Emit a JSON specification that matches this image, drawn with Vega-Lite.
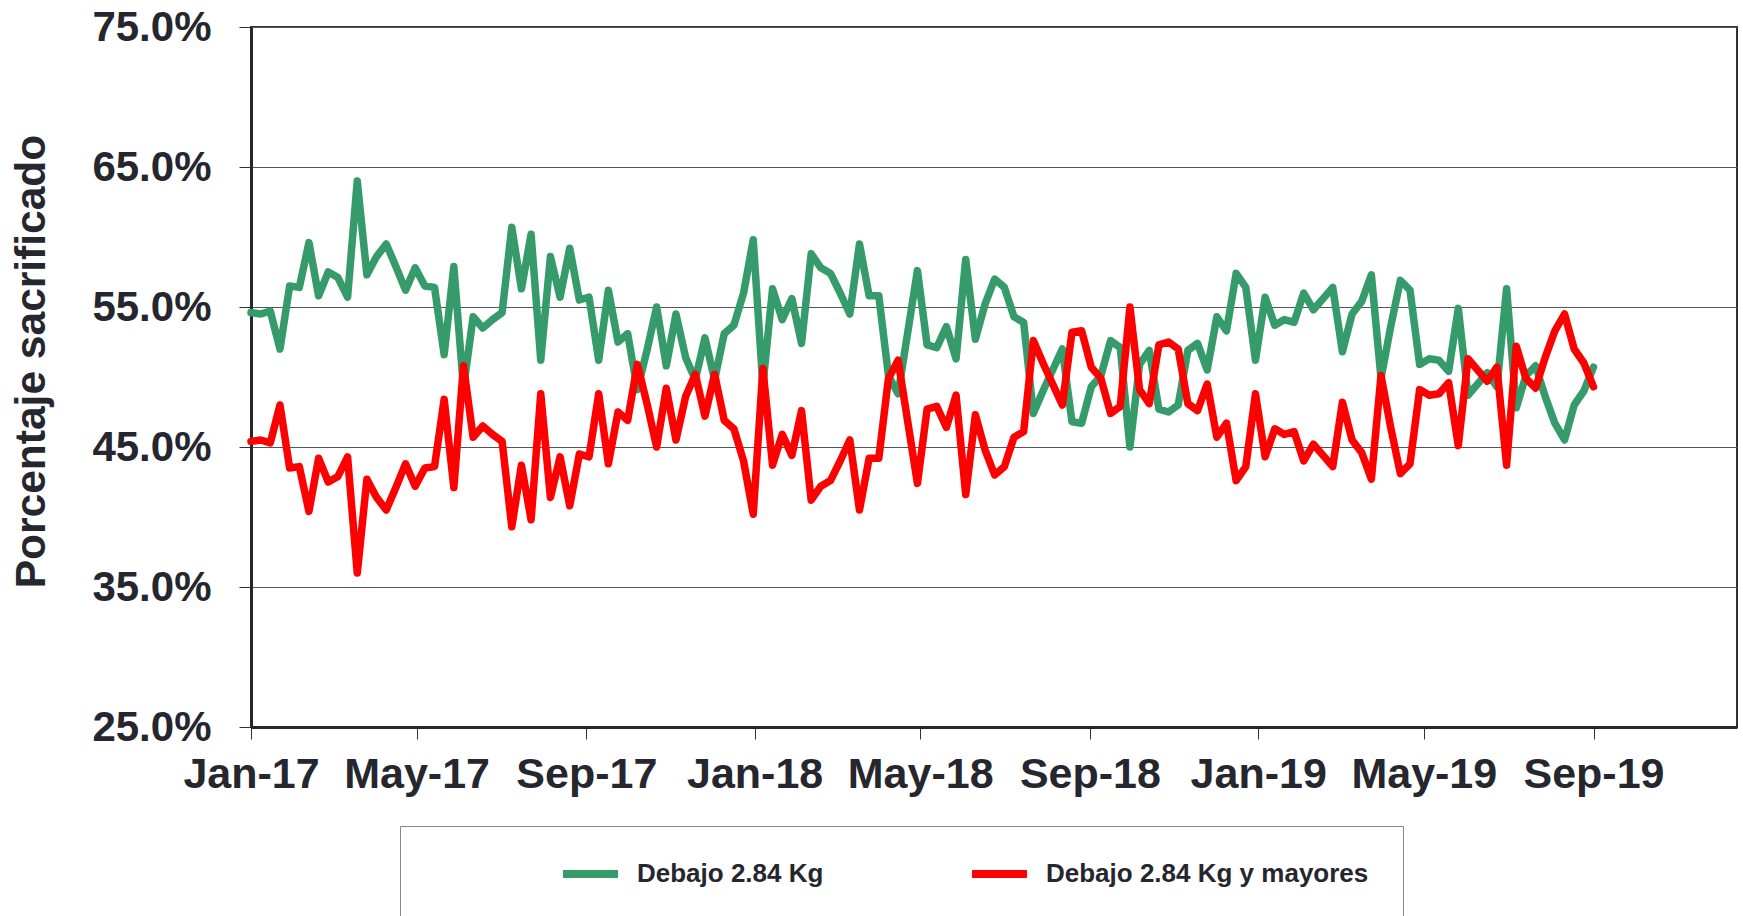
{
  "$schema": "https://vega.github.io/schema/vega-lite/v6.json",
  "width": 1486,
  "height": 700,
  "autosize": {"type": "none"},
  "padding": {"left": 251, "top": 27, "right": 6, "bottom": 189},
  "background": "white",
  "config": {
    "view": {"stroke": "#333", "strokeWidth": 2},
    "font": "Liberation Sans"
  },
  "data": {
    "values": [
      {"fecha": "2017-01-01", "serie": "Debajo 2.84 Kg", "valor": 54.6}, {"fecha": "2017-01-08", "serie": "Debajo 2.84 Kg", "valor": 54.5}, {"fecha": "2017-01-15", "serie": "Debajo 2.84 Kg", "valor": 54.7}, {"fecha": "2017-01-22", "serie": "Debajo 2.84 Kg", "valor": 52.0},
      {"fecha": "2017-01-29", "serie": "Debajo 2.84 Kg", "valor": 56.5}, {"fecha": "2017-02-05", "serie": "Debajo 2.84 Kg", "valor": 56.4}, {"fecha": "2017-02-12", "serie": "Debajo 2.84 Kg", "valor": 59.6}, {"fecha": "2017-02-19", "serie": "Debajo 2.84 Kg", "valor": 55.8},
      {"fecha": "2017-02-26", "serie": "Debajo 2.84 Kg", "valor": 57.5}, {"fecha": "2017-03-05", "serie": "Debajo 2.84 Kg", "valor": 57.1}, {"fecha": "2017-03-12", "serie": "Debajo 2.84 Kg", "valor": 55.7}, {"fecha": "2017-03-19", "serie": "Debajo 2.84 Kg", "valor": 64.0},
      {"fecha": "2017-03-26", "serie": "Debajo 2.84 Kg", "valor": 57.3}, {"fecha": "2017-04-02", "serie": "Debajo 2.84 Kg", "valor": 58.6}, {"fecha": "2017-04-09", "serie": "Debajo 2.84 Kg", "valor": 59.5}, {"fecha": "2017-04-16", "serie": "Debajo 2.84 Kg", "valor": 57.9},
      {"fecha": "2017-04-23", "serie": "Debajo 2.84 Kg", "valor": 56.2}, {"fecha": "2017-04-30", "serie": "Debajo 2.84 Kg", "valor": 57.8}, {"fecha": "2017-05-07", "serie": "Debajo 2.84 Kg", "valor": 56.5}, {"fecha": "2017-05-14", "serie": "Debajo 2.84 Kg", "valor": 56.4},
      {"fecha": "2017-05-21", "serie": "Debajo 2.84 Kg", "valor": 51.6}, {"fecha": "2017-05-28", "serie": "Debajo 2.84 Kg", "valor": 57.9}, {"fecha": "2017-06-04", "serie": "Debajo 2.84 Kg", "valor": 49.2}, {"fecha": "2017-06-11", "serie": "Debajo 2.84 Kg", "valor": 54.3},
      {"fecha": "2017-06-18", "serie": "Debajo 2.84 Kg", "valor": 53.5}, {"fecha": "2017-06-25", "serie": "Debajo 2.84 Kg", "valor": 54.1}, {"fecha": "2017-07-02", "serie": "Debajo 2.84 Kg", "valor": 54.6}, {"fecha": "2017-07-09", "serie": "Debajo 2.84 Kg", "valor": 60.7},
      {"fecha": "2017-07-16", "serie": "Debajo 2.84 Kg", "valor": 56.3}, {"fecha": "2017-07-23", "serie": "Debajo 2.84 Kg", "valor": 60.2}, {"fecha": "2017-07-30", "serie": "Debajo 2.84 Kg", "valor": 51.2}, {"fecha": "2017-08-06", "serie": "Debajo 2.84 Kg", "valor": 58.6},
      {"fecha": "2017-08-13", "serie": "Debajo 2.84 Kg", "valor": 55.7}, {"fecha": "2017-08-20", "serie": "Debajo 2.84 Kg", "valor": 59.2}, {"fecha": "2017-08-27", "serie": "Debajo 2.84 Kg", "valor": 55.5}, {"fecha": "2017-09-03", "serie": "Debajo 2.84 Kg", "valor": 55.7},
      {"fecha": "2017-09-10", "serie": "Debajo 2.84 Kg", "valor": 51.2}, {"fecha": "2017-09-17", "serie": "Debajo 2.84 Kg", "valor": 56.2}, {"fecha": "2017-09-24", "serie": "Debajo 2.84 Kg", "valor": 52.5}, {"fecha": "2017-10-01", "serie": "Debajo 2.84 Kg", "valor": 53.1},
      {"fecha": "2017-10-08", "serie": "Debajo 2.84 Kg", "valor": 49.1}, {"fecha": "2017-10-15", "serie": "Debajo 2.84 Kg", "valor": 51.9}, {"fecha": "2017-10-22", "serie": "Debajo 2.84 Kg", "valor": 55.0}, {"fecha": "2017-10-29", "serie": "Debajo 2.84 Kg", "valor": 50.8},
      {"fecha": "2017-11-05", "serie": "Debajo 2.84 Kg", "valor": 54.5}, {"fecha": "2017-11-12", "serie": "Debajo 2.84 Kg", "valor": 51.4}, {"fecha": "2017-11-19", "serie": "Debajo 2.84 Kg", "valor": 49.8}, {"fecha": "2017-11-26", "serie": "Debajo 2.84 Kg", "valor": 52.8},
      {"fecha": "2017-12-03", "serie": "Debajo 2.84 Kg", "valor": 49.8}, {"fecha": "2017-12-10", "serie": "Debajo 2.84 Kg", "valor": 53.1}, {"fecha": "2017-12-17", "serie": "Debajo 2.84 Kg", "valor": 53.7}, {"fecha": "2017-12-24", "serie": "Debajo 2.84 Kg", "valor": 56.0},
      {"fecha": "2017-12-31", "serie": "Debajo 2.84 Kg", "valor": 59.8}, {"fecha": "2018-01-07", "serie": "Debajo 2.84 Kg", "valor": 49.4}, {"fecha": "2018-01-14", "serie": "Debajo 2.84 Kg", "valor": 56.3}, {"fecha": "2018-01-21", "serie": "Debajo 2.84 Kg", "valor": 54.1},
      {"fecha": "2018-01-28", "serie": "Debajo 2.84 Kg", "valor": 55.6}, {"fecha": "2018-02-04", "serie": "Debajo 2.84 Kg", "valor": 52.4}, {"fecha": "2018-02-11", "serie": "Debajo 2.84 Kg", "valor": 58.8}, {"fecha": "2018-02-18", "serie": "Debajo 2.84 Kg", "valor": 57.8},
      {"fecha": "2018-02-25", "serie": "Debajo 2.84 Kg", "valor": 57.4}, {"fecha": "2018-03-04", "serie": "Debajo 2.84 Kg", "valor": 56.0}, {"fecha": "2018-03-11", "serie": "Debajo 2.84 Kg", "valor": 54.5}, {"fecha": "2018-03-18", "serie": "Debajo 2.84 Kg", "valor": 59.5},
      {"fecha": "2018-03-25", "serie": "Debajo 2.84 Kg", "valor": 55.8}, {"fecha": "2018-04-01", "serie": "Debajo 2.84 Kg", "valor": 55.8}, {"fecha": "2018-04-08", "serie": "Debajo 2.84 Kg", "valor": 50.1}, {"fecha": "2018-04-15", "serie": "Debajo 2.84 Kg", "valor": 48.8},
      {"fecha": "2018-04-22", "serie": "Debajo 2.84 Kg", "valor": 53.2}, {"fecha": "2018-04-29", "serie": "Debajo 2.84 Kg", "valor": 57.6}, {"fecha": "2018-05-06", "serie": "Debajo 2.84 Kg", "valor": 52.3}, {"fecha": "2018-05-13", "serie": "Debajo 2.84 Kg", "valor": 52.1},
      {"fecha": "2018-05-20", "serie": "Debajo 2.84 Kg", "valor": 53.6}, {"fecha": "2018-05-27", "serie": "Debajo 2.84 Kg", "valor": 51.3}, {"fecha": "2018-06-03", "serie": "Debajo 2.84 Kg", "valor": 58.4}, {"fecha": "2018-06-10", "serie": "Debajo 2.84 Kg", "valor": 52.7},
      {"fecha": "2018-06-17", "serie": "Debajo 2.84 Kg", "valor": 55.2}, {"fecha": "2018-06-24", "serie": "Debajo 2.84 Kg", "valor": 57.0}, {"fecha": "2018-07-01", "serie": "Debajo 2.84 Kg", "valor": 56.4}, {"fecha": "2018-07-08", "serie": "Debajo 2.84 Kg", "valor": 54.3},
      {"fecha": "2018-07-15", "serie": "Debajo 2.84 Kg", "valor": 53.9}, {"fecha": "2018-07-22", "serie": "Debajo 2.84 Kg", "valor": 47.4}, {"fecha": "2018-07-29", "serie": "Debajo 2.84 Kg", "valor": 49.0}, {"fecha": "2018-08-05", "serie": "Debajo 2.84 Kg", "valor": 50.5},
      {"fecha": "2018-08-12", "serie": "Debajo 2.84 Kg", "valor": 52.0}, {"fecha": "2018-08-19", "serie": "Debajo 2.84 Kg", "valor": 46.8}, {"fecha": "2018-08-26", "serie": "Debajo 2.84 Kg", "valor": 46.7}, {"fecha": "2018-09-02", "serie": "Debajo 2.84 Kg", "valor": 49.3},
      {"fecha": "2018-09-09", "serie": "Debajo 2.84 Kg", "valor": 50.1}, {"fecha": "2018-09-16", "serie": "Debajo 2.84 Kg", "valor": 52.6}, {"fecha": "2018-09-23", "serie": "Debajo 2.84 Kg", "valor": 52.1}, {"fecha": "2018-09-30", "serie": "Debajo 2.84 Kg", "valor": 45.0},
      {"fecha": "2018-10-07", "serie": "Debajo 2.84 Kg", "valor": 50.9}, {"fecha": "2018-10-14", "serie": "Debajo 2.84 Kg", "valor": 51.9}, {"fecha": "2018-10-21", "serie": "Debajo 2.84 Kg", "valor": 47.7}, {"fecha": "2018-10-28", "serie": "Debajo 2.84 Kg", "valor": 47.5},
      {"fecha": "2018-11-04", "serie": "Debajo 2.84 Kg", "valor": 48.0}, {"fecha": "2018-11-11", "serie": "Debajo 2.84 Kg", "valor": 51.9}, {"fecha": "2018-11-18", "serie": "Debajo 2.84 Kg", "valor": 52.4}, {"fecha": "2018-11-25", "serie": "Debajo 2.84 Kg", "valor": 50.5},
      {"fecha": "2018-12-02", "serie": "Debajo 2.84 Kg", "valor": 54.3}, {"fecha": "2018-12-09", "serie": "Debajo 2.84 Kg", "valor": 53.3}, {"fecha": "2018-12-16", "serie": "Debajo 2.84 Kg", "valor": 57.4}, {"fecha": "2018-12-23", "serie": "Debajo 2.84 Kg", "valor": 56.4},
      {"fecha": "2018-12-30", "serie": "Debajo 2.84 Kg", "valor": 51.2}, {"fecha": "2019-01-06", "serie": "Debajo 2.84 Kg", "valor": 55.7}, {"fecha": "2019-01-13", "serie": "Debajo 2.84 Kg", "valor": 53.7}, {"fecha": "2019-01-20", "serie": "Debajo 2.84 Kg", "valor": 54.1},
      {"fecha": "2019-01-27", "serie": "Debajo 2.84 Kg", "valor": 53.9}, {"fecha": "2019-02-03", "serie": "Debajo 2.84 Kg", "valor": 56.0}, {"fecha": "2019-02-10", "serie": "Debajo 2.84 Kg", "valor": 54.8}, {"fecha": "2019-02-17", "serie": "Debajo 2.84 Kg", "valor": 55.6},
      {"fecha": "2019-02-24", "serie": "Debajo 2.84 Kg", "valor": 56.4}, {"fecha": "2019-03-03", "serie": "Debajo 2.84 Kg", "valor": 51.8}, {"fecha": "2019-03-10", "serie": "Debajo 2.84 Kg", "valor": 54.5}, {"fecha": "2019-03-17", "serie": "Debajo 2.84 Kg", "valor": 55.4},
      {"fecha": "2019-03-24", "serie": "Debajo 2.84 Kg", "valor": 57.3}, {"fecha": "2019-03-31", "serie": "Debajo 2.84 Kg", "valor": 49.9}, {"fecha": "2019-04-07", "serie": "Debajo 2.84 Kg", "valor": 53.6}, {"fecha": "2019-04-14", "serie": "Debajo 2.84 Kg", "valor": 56.9},
      {"fecha": "2019-04-21", "serie": "Debajo 2.84 Kg", "valor": 56.2}, {"fecha": "2019-04-28", "serie": "Debajo 2.84 Kg", "valor": 50.9}, {"fecha": "2019-05-05", "serie": "Debajo 2.84 Kg", "valor": 51.3}, {"fecha": "2019-05-12", "serie": "Debajo 2.84 Kg", "valor": 51.2},
      {"fecha": "2019-05-19", "serie": "Debajo 2.84 Kg", "valor": 50.4}, {"fecha": "2019-05-26", "serie": "Debajo 2.84 Kg", "valor": 54.9}, {"fecha": "2019-06-02", "serie": "Debajo 2.84 Kg", "valor": 48.7}, {"fecha": "2019-06-09", "serie": "Debajo 2.84 Kg", "valor": 49.5},
      {"fecha": "2019-06-16", "serie": "Debajo 2.84 Kg", "valor": 50.3}, {"fecha": "2019-06-23", "serie": "Debajo 2.84 Kg", "valor": 49.3}, {"fecha": "2019-06-30", "serie": "Debajo 2.84 Kg", "valor": 56.3}, {"fecha": "2019-07-07", "serie": "Debajo 2.84 Kg", "valor": 47.8},
      {"fecha": "2019-07-14", "serie": "Debajo 2.84 Kg", "valor": 50.1}, {"fecha": "2019-07-21", "serie": "Debajo 2.84 Kg", "valor": 50.8}, {"fecha": "2019-07-28", "serie": "Debajo 2.84 Kg", "valor": 48.6}, {"fecha": "2019-08-04", "serie": "Debajo 2.84 Kg", "valor": 46.7},
      {"fecha": "2019-08-11", "serie": "Debajo 2.84 Kg", "valor": 45.5}, {"fecha": "2019-08-18", "serie": "Debajo 2.84 Kg", "valor": 48.0}, {"fecha": "2019-08-25", "serie": "Debajo 2.84 Kg", "valor": 49.0}, {"fecha": "2019-09-01", "serie": "Debajo 2.84 Kg", "valor": 50.7},

      {"fecha": "2017-01-01", "serie": "Debajo 2.84 Kg y mayores", "valor": 45.4}, {"fecha": "2017-01-08", "serie": "Debajo 2.84 Kg y mayores", "valor": 45.5}, {"fecha": "2017-01-15", "serie": "Debajo 2.84 Kg y mayores", "valor": 45.3}, {"fecha": "2017-01-22", "serie": "Debajo 2.84 Kg y mayores", "valor": 48.0},
      {"fecha": "2017-01-29", "serie": "Debajo 2.84 Kg y mayores", "valor": 43.5}, {"fecha": "2017-02-05", "serie": "Debajo 2.84 Kg y mayores", "valor": 43.6}, {"fecha": "2017-02-12", "serie": "Debajo 2.84 Kg y mayores", "valor": 40.4}, {"fecha": "2017-02-19", "serie": "Debajo 2.84 Kg y mayores", "valor": 44.2},
      {"fecha": "2017-02-26", "serie": "Debajo 2.84 Kg y mayores", "valor": 42.5}, {"fecha": "2017-03-05", "serie": "Debajo 2.84 Kg y mayores", "valor": 42.9}, {"fecha": "2017-03-12", "serie": "Debajo 2.84 Kg y mayores", "valor": 44.3}, {"fecha": "2017-03-19", "serie": "Debajo 2.84 Kg y mayores", "valor": 36.0},
      {"fecha": "2017-03-26", "serie": "Debajo 2.84 Kg y mayores", "valor": 42.7}, {"fecha": "2017-04-02", "serie": "Debajo 2.84 Kg y mayores", "valor": 41.4}, {"fecha": "2017-04-09", "serie": "Debajo 2.84 Kg y mayores", "valor": 40.5}, {"fecha": "2017-04-16", "serie": "Debajo 2.84 Kg y mayores", "valor": 42.1},
      {"fecha": "2017-04-23", "serie": "Debajo 2.84 Kg y mayores", "valor": 43.8}, {"fecha": "2017-04-30", "serie": "Debajo 2.84 Kg y mayores", "valor": 42.2}, {"fecha": "2017-05-07", "serie": "Debajo 2.84 Kg y mayores", "valor": 43.5}, {"fecha": "2017-05-14", "serie": "Debajo 2.84 Kg y mayores", "valor": 43.6},
      {"fecha": "2017-05-21", "serie": "Debajo 2.84 Kg y mayores", "valor": 48.4}, {"fecha": "2017-05-28", "serie": "Debajo 2.84 Kg y mayores", "valor": 42.1}, {"fecha": "2017-06-04", "serie": "Debajo 2.84 Kg y mayores", "valor": 50.8}, {"fecha": "2017-06-11", "serie": "Debajo 2.84 Kg y mayores", "valor": 45.7},
      {"fecha": "2017-06-18", "serie": "Debajo 2.84 Kg y mayores", "valor": 46.5}, {"fecha": "2017-06-25", "serie": "Debajo 2.84 Kg y mayores", "valor": 45.9}, {"fecha": "2017-07-02", "serie": "Debajo 2.84 Kg y mayores", "valor": 45.4}, {"fecha": "2017-07-09", "serie": "Debajo 2.84 Kg y mayores", "valor": 39.3},
      {"fecha": "2017-07-16", "serie": "Debajo 2.84 Kg y mayores", "valor": 43.7}, {"fecha": "2017-07-23", "serie": "Debajo 2.84 Kg y mayores", "valor": 39.8}, {"fecha": "2017-07-30", "serie": "Debajo 2.84 Kg y mayores", "valor": 48.8}, {"fecha": "2017-08-06", "serie": "Debajo 2.84 Kg y mayores", "valor": 41.4},
      {"fecha": "2017-08-13", "serie": "Debajo 2.84 Kg y mayores", "valor": 44.3}, {"fecha": "2017-08-20", "serie": "Debajo 2.84 Kg y mayores", "valor": 40.8}, {"fecha": "2017-08-27", "serie": "Debajo 2.84 Kg y mayores", "valor": 44.5}, {"fecha": "2017-09-03", "serie": "Debajo 2.84 Kg y mayores", "valor": 44.3},
      {"fecha": "2017-09-10", "serie": "Debajo 2.84 Kg y mayores", "valor": 48.8}, {"fecha": "2017-09-17", "serie": "Debajo 2.84 Kg y mayores", "valor": 43.8}, {"fecha": "2017-09-24", "serie": "Debajo 2.84 Kg y mayores", "valor": 47.5}, {"fecha": "2017-10-01", "serie": "Debajo 2.84 Kg y mayores", "valor": 46.9},
      {"fecha": "2017-10-08", "serie": "Debajo 2.84 Kg y mayores", "valor": 50.9}, {"fecha": "2017-10-15", "serie": "Debajo 2.84 Kg y mayores", "valor": 48.1}, {"fecha": "2017-10-22", "serie": "Debajo 2.84 Kg y mayores", "valor": 45.0}, {"fecha": "2017-10-29", "serie": "Debajo 2.84 Kg y mayores", "valor": 49.2},
      {"fecha": "2017-11-05", "serie": "Debajo 2.84 Kg y mayores", "valor": 45.5}, {"fecha": "2017-11-12", "serie": "Debajo 2.84 Kg y mayores", "valor": 48.6}, {"fecha": "2017-11-19", "serie": "Debajo 2.84 Kg y mayores", "valor": 50.2}, {"fecha": "2017-11-26", "serie": "Debajo 2.84 Kg y mayores", "valor": 47.2},
      {"fecha": "2017-12-03", "serie": "Debajo 2.84 Kg y mayores", "valor": 50.2}, {"fecha": "2017-12-10", "serie": "Debajo 2.84 Kg y mayores", "valor": 46.9}, {"fecha": "2017-12-17", "serie": "Debajo 2.84 Kg y mayores", "valor": 46.3}, {"fecha": "2017-12-24", "serie": "Debajo 2.84 Kg y mayores", "valor": 44.0},
      {"fecha": "2017-12-31", "serie": "Debajo 2.84 Kg y mayores", "valor": 40.2}, {"fecha": "2018-01-07", "serie": "Debajo 2.84 Kg y mayores", "valor": 50.6}, {"fecha": "2018-01-14", "serie": "Debajo 2.84 Kg y mayores", "valor": 43.7}, {"fecha": "2018-01-21", "serie": "Debajo 2.84 Kg y mayores", "valor": 45.9},
      {"fecha": "2018-01-28", "serie": "Debajo 2.84 Kg y mayores", "valor": 44.4}, {"fecha": "2018-02-04", "serie": "Debajo 2.84 Kg y mayores", "valor": 47.6}, {"fecha": "2018-02-11", "serie": "Debajo 2.84 Kg y mayores", "valor": 41.2}, {"fecha": "2018-02-18", "serie": "Debajo 2.84 Kg y mayores", "valor": 42.2},
      {"fecha": "2018-02-25", "serie": "Debajo 2.84 Kg y mayores", "valor": 42.6}, {"fecha": "2018-03-04", "serie": "Debajo 2.84 Kg y mayores", "valor": 44.0}, {"fecha": "2018-03-11", "serie": "Debajo 2.84 Kg y mayores", "valor": 45.5}, {"fecha": "2018-03-18", "serie": "Debajo 2.84 Kg y mayores", "valor": 40.5},
      {"fecha": "2018-03-25", "serie": "Debajo 2.84 Kg y mayores", "valor": 44.2}, {"fecha": "2018-04-01", "serie": "Debajo 2.84 Kg y mayores", "valor": 44.2}, {"fecha": "2018-04-08", "serie": "Debajo 2.84 Kg y mayores", "valor": 49.9}, {"fecha": "2018-04-15", "serie": "Debajo 2.84 Kg y mayores", "valor": 51.2},
      {"fecha": "2018-04-22", "serie": "Debajo 2.84 Kg y mayores", "valor": 46.8}, {"fecha": "2018-04-29", "serie": "Debajo 2.84 Kg y mayores", "valor": 42.4}, {"fecha": "2018-05-06", "serie": "Debajo 2.84 Kg y mayores", "valor": 47.7}, {"fecha": "2018-05-13", "serie": "Debajo 2.84 Kg y mayores", "valor": 47.9},
      {"fecha": "2018-05-20", "serie": "Debajo 2.84 Kg y mayores", "valor": 46.4}, {"fecha": "2018-05-27", "serie": "Debajo 2.84 Kg y mayores", "valor": 48.7}, {"fecha": "2018-06-03", "serie": "Debajo 2.84 Kg y mayores", "valor": 41.6}, {"fecha": "2018-06-10", "serie": "Debajo 2.84 Kg y mayores", "valor": 47.3},
      {"fecha": "2018-06-17", "serie": "Debajo 2.84 Kg y mayores", "valor": 44.8}, {"fecha": "2018-06-24", "serie": "Debajo 2.84 Kg y mayores", "valor": 43.0}, {"fecha": "2018-07-01", "serie": "Debajo 2.84 Kg y mayores", "valor": 43.6}, {"fecha": "2018-07-08", "serie": "Debajo 2.84 Kg y mayores", "valor": 45.7},
      {"fecha": "2018-07-15", "serie": "Debajo 2.84 Kg y mayores", "valor": 46.1}, {"fecha": "2018-07-22", "serie": "Debajo 2.84 Kg y mayores", "valor": 52.6}, {"fecha": "2018-07-29", "serie": "Debajo 2.84 Kg y mayores", "valor": 51.0}, {"fecha": "2018-08-05", "serie": "Debajo 2.84 Kg y mayores", "valor": 49.5},
      {"fecha": "2018-08-12", "serie": "Debajo 2.84 Kg y mayores", "valor": 48.0}, {"fecha": "2018-08-19", "serie": "Debajo 2.84 Kg y mayores", "valor": 53.2}, {"fecha": "2018-08-26", "serie": "Debajo 2.84 Kg y mayores", "valor": 53.3}, {"fecha": "2018-09-02", "serie": "Debajo 2.84 Kg y mayores", "valor": 50.7},
      {"fecha": "2018-09-09", "serie": "Debajo 2.84 Kg y mayores", "valor": 49.9}, {"fecha": "2018-09-16", "serie": "Debajo 2.84 Kg y mayores", "valor": 47.4}, {"fecha": "2018-09-23", "serie": "Debajo 2.84 Kg y mayores", "valor": 47.9}, {"fecha": "2018-09-30", "serie": "Debajo 2.84 Kg y mayores", "valor": 55.0},
      {"fecha": "2018-10-07", "serie": "Debajo 2.84 Kg y mayores", "valor": 49.1}, {"fecha": "2018-10-14", "serie": "Debajo 2.84 Kg y mayores", "valor": 48.1}, {"fecha": "2018-10-21", "serie": "Debajo 2.84 Kg y mayores", "valor": 52.3}, {"fecha": "2018-10-28", "serie": "Debajo 2.84 Kg y mayores", "valor": 52.5},
      {"fecha": "2018-11-04", "serie": "Debajo 2.84 Kg y mayores", "valor": 52.0}, {"fecha": "2018-11-11", "serie": "Debajo 2.84 Kg y mayores", "valor": 48.1}, {"fecha": "2018-11-18", "serie": "Debajo 2.84 Kg y mayores", "valor": 47.6}, {"fecha": "2018-11-25", "serie": "Debajo 2.84 Kg y mayores", "valor": 49.5},
      {"fecha": "2018-12-02", "serie": "Debajo 2.84 Kg y mayores", "valor": 45.7}, {"fecha": "2018-12-09", "serie": "Debajo 2.84 Kg y mayores", "valor": 46.7}, {"fecha": "2018-12-16", "serie": "Debajo 2.84 Kg y mayores", "valor": 42.6}, {"fecha": "2018-12-23", "serie": "Debajo 2.84 Kg y mayores", "valor": 43.6},
      {"fecha": "2018-12-30", "serie": "Debajo 2.84 Kg y mayores", "valor": 48.8}, {"fecha": "2019-01-06", "serie": "Debajo 2.84 Kg y mayores", "valor": 44.3}, {"fecha": "2019-01-13", "serie": "Debajo 2.84 Kg y mayores", "valor": 46.3}, {"fecha": "2019-01-20", "serie": "Debajo 2.84 Kg y mayores", "valor": 45.9},
      {"fecha": "2019-01-27", "serie": "Debajo 2.84 Kg y mayores", "valor": 46.1}, {"fecha": "2019-02-03", "serie": "Debajo 2.84 Kg y mayores", "valor": 44.0}, {"fecha": "2019-02-10", "serie": "Debajo 2.84 Kg y mayores", "valor": 45.2}, {"fecha": "2019-02-17", "serie": "Debajo 2.84 Kg y mayores", "valor": 44.4},
      {"fecha": "2019-02-24", "serie": "Debajo 2.84 Kg y mayores", "valor": 43.6}, {"fecha": "2019-03-03", "serie": "Debajo 2.84 Kg y mayores", "valor": 48.2}, {"fecha": "2019-03-10", "serie": "Debajo 2.84 Kg y mayores", "valor": 45.5}, {"fecha": "2019-03-17", "serie": "Debajo 2.84 Kg y mayores", "valor": 44.6},
      {"fecha": "2019-03-24", "serie": "Debajo 2.84 Kg y mayores", "valor": 42.7}, {"fecha": "2019-03-31", "serie": "Debajo 2.84 Kg y mayores", "valor": 50.1}, {"fecha": "2019-04-07", "serie": "Debajo 2.84 Kg y mayores", "valor": 46.4}, {"fecha": "2019-04-14", "serie": "Debajo 2.84 Kg y mayores", "valor": 43.1},
      {"fecha": "2019-04-21", "serie": "Debajo 2.84 Kg y mayores", "valor": 43.8}, {"fecha": "2019-04-28", "serie": "Debajo 2.84 Kg y mayores", "valor": 49.1}, {"fecha": "2019-05-05", "serie": "Debajo 2.84 Kg y mayores", "valor": 48.7}, {"fecha": "2019-05-12", "serie": "Debajo 2.84 Kg y mayores", "valor": 48.8},
      {"fecha": "2019-05-19", "serie": "Debajo 2.84 Kg y mayores", "valor": 49.6}, {"fecha": "2019-05-26", "serie": "Debajo 2.84 Kg y mayores", "valor": 45.1}, {"fecha": "2019-06-02", "serie": "Debajo 2.84 Kg y mayores", "valor": 51.3}, {"fecha": "2019-06-09", "serie": "Debajo 2.84 Kg y mayores", "valor": 50.5},
      {"fecha": "2019-06-16", "serie": "Debajo 2.84 Kg y mayores", "valor": 49.7}, {"fecha": "2019-06-23", "serie": "Debajo 2.84 Kg y mayores", "valor": 50.7}, {"fecha": "2019-06-30", "serie": "Debajo 2.84 Kg y mayores", "valor": 43.7}, {"fecha": "2019-07-07", "serie": "Debajo 2.84 Kg y mayores", "valor": 52.2},
      {"fecha": "2019-07-14", "serie": "Debajo 2.84 Kg y mayores", "valor": 49.9}, {"fecha": "2019-07-21", "serie": "Debajo 2.84 Kg y mayores", "valor": 49.2}, {"fecha": "2019-07-28", "serie": "Debajo 2.84 Kg y mayores", "valor": 51.4}, {"fecha": "2019-08-04", "serie": "Debajo 2.84 Kg y mayores", "valor": 53.3},
      {"fecha": "2019-08-11", "serie": "Debajo 2.84 Kg y mayores", "valor": 54.5}, {"fecha": "2019-08-18", "serie": "Debajo 2.84 Kg y mayores", "valor": 52.0}, {"fecha": "2019-08-25", "serie": "Debajo 2.84 Kg y mayores", "valor": 51.0}, {"fecha": "2019-09-01", "serie": "Debajo 2.84 Kg y mayores", "valor": 49.3}
    ]
  },
  "mark": {"type": "line", "strokeWidth": 7.5, "strokeJoin": "round", "strokeCap": "round"},
  "encoding": {
    "x": {
      "field": "fecha",
      "type": "temporal",
      "scale": {
        "type": "utc",
        "domain": [
          {"year": 2017, "month": 1, "date": 1, "utc": true},
          {"year": 2019, "month": 12, "date": 14, "utc": true}
        ]
      },
      "axis": {
        "title": null,
        "grid": false,
        "values": [
          {"year": 2017, "month": 1, "date": 1, "utc": true},
          {"year": 2017, "month": 5, "date": 1, "utc": true},
          {"year": 2017, "month": 9, "date": 1, "utc": true},
          {"year": 2018, "month": 1, "date": 1, "utc": true},
          {"year": 2018, "month": 5, "date": 1, "utc": true},
          {"year": 2018, "month": 9, "date": 1, "utc": true},
          {"year": 2019, "month": 1, "date": 1, "utc": true},
          {"year": 2019, "month": 5, "date": 1, "utc": true},
          {"year": 2019, "month": 9, "date": 1, "utc": true}
        ],
        "labelExpr": "utcFormat(datum.value, '%b-%y')",
        "labelFont": "Liberation Sans",
        "labelFontWeight": "bold",
        "labelFontSize": 43,
        "labelColor": "#26262e",
        "labelPadding": 14,
        "labelFlush": false,
        "labelOverlap": false,
        "tickSize": 12,
        "tickColor": "#333",
        "tickWidth": 1,
        "domainColor": "#26262e",
        "domainWidth": 3
      }
    },
    "y": {
      "field": "valor",
      "type": "quantitative",
      "scale": {"domain": [25, 75], "nice": false, "zero": false},
      "axis": {
        "values": [25, 35, 45, 55, 65, 75],
        "labelExpr": "format(datum.value, '.1f') + '%'",
        "labelFont": "Liberation Sans",
        "labelFontWeight": "bold",
        "labelFontSize": 42,
        "labelColor": "#26262e",
        "labelPadding": 28,
        "tickSize": 12,
        "tickColor": "#333",
        "domainColor": "#26262e",
        "domainWidth": 3,
        "grid": true,
        "gridColor": "#555",
        "gridWidth": 1,
        "title": "Porcentaje sacrificado",
        "titleFont": "Liberation Sans",
        "titleFontWeight": "bold",
        "titleFontSize": 42.5,
        "titleColor": "#26262e",
        "titleAngle": -90,
        "titleAlign": "center",
        "titleBaseline": "middle",
        "titleX": -220,
        "titleY": 334
      }
    },
    "color": {
      "field": "serie",
      "type": "nominal",
      "scale": {
        "domain": ["Debajo 2.84 Kg", "Debajo 2.84 Kg y mayores"],
        "range": ["#369b6a", "#ff0000"]
      },
      "legend": {
        "orient": "none",
        "legendX": 149,
        "legendY": 799,
        "direction": "horizontal",
        "title": null,
        "symbolType": "stroke",
        "symbolSize": 3025,
        "symbolStrokeWidth": 8,
        "symbolOffset": 125,
        "labelOffset": 15,
        "labelFont": "Liberation Sans",
        "labelFontWeight": "bold",
        "labelFontSize": 26,
        "labelColor": "#26262e",
        "labelLimit": 600,
        "columnPadding": 19,
        "clipHeight": 28,
        "padding": 34,
        "strokeColor": "#888",
        "fillColor": "white"
      }
    }
  }
}
